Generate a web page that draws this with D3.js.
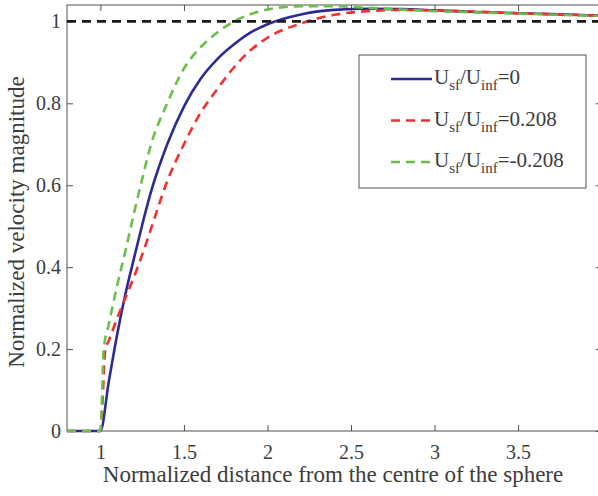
<!DOCTYPE html>
<html>
<head>
<meta charset="utf-8">
<script src="https://cdn.jsdelivr.net/npm/d3@7"></script>
<style>
  body { margin: 0; background: white; }
  text { font-family: "Liberation Serif", "Times New Roman", serif; }
</style>
</head>
<body>
<div id="myVis"></div>
<script>
// normalized velocity vs distance from sphere centre, three slip ratios

var width = 598;
var height = 496;

var xTicks = [1, 1.5, 2, 2.5, 3, 3.5];
var yTicks = [0, 0.2, 0.4, 0.6, 0.8, 1];

// Usf/Uinf = 0
var xBlue = [0.8, 1.0, 1.05, 1.1, 1.15, 1.2, 1.25, 1.3, 1.4, 1.5, 1.6, 1.7, 1.8, 1.9, 2.0, 2.2, 2.4, 2.6, 2.8, 3.0, 3.25, 3.5, 3.75, 4.0];
var yBlue = [0, 0, 0.12, 0.235, 0.335, 0.42, 0.503, 0.58, 0.70, 0.792, 0.86, 0.908, 0.944, 0.973, 0.993, 1.017, 1.028, 1.031, 1.03, 1.027, 1.023, 1.02, 1.017, 1.014];

// Usf/Uinf = 0.208
var xRed = [0.8, 1.0, 1.03, 1.05, 1.1, 1.15, 1.2, 1.25, 1.3, 1.4, 1.5, 1.6, 1.7, 1.8, 1.9, 2.0, 2.2, 2.4, 2.6, 2.8, 3.0, 3.25, 3.5, 3.75, 4.0];
var yRed = [0, 0, 0.2, 0.22, 0.275, 0.325, 0.375, 0.43, 0.49, 0.61, 0.70, 0.777, 0.835, 0.888, 0.93, 0.96, 0.995, 1.016, 1.025, 1.028, 1.027, 1.024, 1.02, 1.017, 1.014];

// Usf/Uinf = -0.208
var xGreen = [0.8, 1.0, 1.02, 1.05, 1.1, 1.15, 1.2, 1.25, 1.3, 1.4, 1.5, 1.6, 1.7, 1.8, 1.9, 2.0, 2.2, 2.4, 2.6, 2.8, 3.0, 3.25, 3.5, 3.75, 4.0];
var yGreen = [0, 0, 0.2, 0.26, 0.355, 0.44, 0.53, 0.615, 0.695, 0.80, 0.885, 0.937, 0.973, 1.0, 1.018, 1.029, 1.037, 1.037, 1.033, 1.029, 1.025, 1.022, 1.019, 1.016, 1.013];

var refLine = [0.8, 4.0];

var series = [
  { name: "0", xs: xBlue, ys: yBlue, color: "#2e2a95", dash: null },
  { name: "0.208", xs: xRed, ys: yRed, color: "#f03030", dash: "9,6" },
  { name: "-0.208", xs: xGreen, ys: yGreen, color: "#6abf4b", dash: "9,6" }
];

// plot box (right edge falls just outside the picture)
var pLeft = 67, pRight = 601.6, pTop = 5, pBottom = 431;

var x = d3.scaleLinear().domain([0.8, 4]).range([pLeft, pRight]);
var y = d3.scaleLinear().domain([0, 1.04]).range([pBottom, pTop]);

var svg = d3
  .select("#myVis")
  .append("svg")
  .attr("width", width)
  .attr("height", height)
  .style("background-color", "white");

var axisColor = "#505050";
var textColor = "#3c3c3c";

// axes, ticks pointing inwards like matlab
var gx = svg.append("g")
  .attr("transform", "translate(0," + pBottom + ")")
  .call(d3.axisBottom(x).tickValues(xTicks).tickSize(-6).tickPadding(14).tickFormat(String));
var gxTop = svg.append("g")
  .attr("transform", "translate(0," + pTop + ")")
  .call(d3.axisTop(x).tickValues(xTicks).tickSize(-6).tickFormat(""));
var gy = svg.append("g")
  .attr("transform", "translate(" + pLeft + ",0)")
  .call(d3.axisLeft(y).tickValues(yTicks).tickSize(-6).tickPadding(6).tickFormat(String));
var gyRight = svg.append("g")
  .attr("transform", "translate(" + pRight + ",0)")
  .call(d3.axisRight(y).tickValues(yTicks).tickSize(-6).tickFormat(""));

[gx, gxTop, gy, gyRight].forEach(function (g) {
  g.select(".domain").remove();
  g.selectAll("line").attr("stroke", axisColor);
  g.selectAll("text")
    .attr("fill", textColor)
    .style("font-size", "20px")
    .style("font-family", "Liberation Serif, serif");
});

svg.append("rect")
  .attr("x", pLeft)
  .attr("y", pTop)
  .attr("width", pRight - pLeft)
  .attr("height", pBottom - pTop)
  .attr("fill", "none")
  .attr("stroke", axisColor)
  .attr("stroke-width", 1);

var line = d3.line()
  .x(function (d) { return x(d[0]); })
  .y(function (d) { return y(d[1]); })
  .curve(d3.curveMonotoneX);

series.forEach(function (s) {
  var pts = s.xs.map(function (v, i) { return [v, s.ys[i]]; });
  svg.append("path")
    .datum(pts)
    .attr("d", line)
    .attr("fill", "none")
    .attr("stroke", s.color)
    .attr("stroke-width", 2.6)
    .attr("stroke-dasharray", s.dash);
});

// reference line at 1
svg.append("path")
  .datum(refLine.map(function (v) { return [v, 1]; }))
  .attr("d", d3.line().x(function (d) { return x(d[0]); }).y(function (d) { return y(d[1]); }))
  .attr("stroke", "#1a1a1a")
  .attr("stroke-width", 2.6)
  .attr("stroke-dasharray", "9,6");

// axis labels
svg.append("text")
  .attr("x", 333)
  .attr("y", 482)
  .attr("text-anchor", "middle")
  .attr("fill", textColor)
  .style("font-size", "23px")
  .text("Normalized distance from the centre of the sphere");

svg.append("text")
  .attr("transform", "translate(24," + ((pBottom + pTop) / 2 + 4) + ") rotate(-90)")
  .attr("text-anchor", "middle")
  .attr("fill", textColor)
  .style("font-size", "23px")
  .text("Normalized velocity magnitude");

// legend
var legend = svg.append("g");
legend.append("rect")
  .attr("x", 359)
  .attr("y", 55)
  .attr("width", 227)
  .attr("height", 133)
  .attr("fill", "white")
  .attr("stroke", axisColor)
  .attr("stroke-width", 1);

series.forEach(function (s, i) {
  var ly = 79 + i * 41.5;
  legend.append("line")
    .attr("x1", 391)
    .attr("x2", 432)
    .attr("y1", ly)
    .attr("y2", ly)
    .attr("stroke", s.color)
    .attr("stroke-width", 2.6)
    .attr("stroke-dasharray", s.dash);
  var t = legend.append("text")
    .attr("x", 434)
    .attr("y", ly + 5)
    .attr("fill", textColor)
    .style("font-size", "21px");
  t.append("tspan").text("U");
  t.append("tspan").attr("dy", 6).style("font-size", "15px").text("sf");
  t.append("tspan").attr("dy", -6).text("/U");
  t.append("tspan").attr("dy", 6).style("font-size", "15px").text("inf");
  t.append("tspan").attr("dy", -6).text("=" + s.name);
});
</script>
</body>
</html>
